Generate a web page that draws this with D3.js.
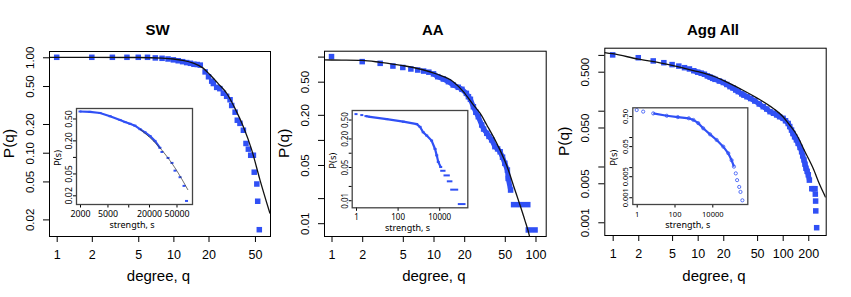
<!DOCTYPE html>
<html>
<head>
<meta charset="utf-8">
<script src="https://cdn.jsdelivr.net/npm/d3@7"></script>
<style>
  body { margin: 0; background: #fff; }
  svg { display: block; }
  text { font-family: "Liberation Sans", Arial, sans-serif; fill: #000; }
  .inset text { font-family: "Noto Sans", sans-serif; }
</style>
</head>
<body>
<svg id="chart" width="851" height="297"></svg>
<script>
// ---- SW ----
const swDegree = [1, 2, 3, 4, 5, 6, 7, 8, 9, 10, 11, 12, 13, 14, 15, 16, 17, 18.7, 20, 21.3, 22, 23.5, 25, 26.8, 28.6, 30.6, 31.6, 33.8, 35.3, 37.2, 39.8, 41.9, 43.9, 46, 48.5, 49.3, 51.9, 52.8, 54.5]
const swProb = [1, 1, 1, 1, 1, 1, 0.985, 0.976, 0.96, 0.94, 0.92, 0.9, 0.88, 0.865, 0.845, 0.84, 0.828, 0.703, 0.625, 0.5625, 0.531, 0.484, 0.469, 0.42, 0.39, 0.359, 0.3125, 0.266, 0.219, 0.203, 0.172, 0.125, 0.109, 0.094, 0.094, 0.0625, 0.047, 0.031, 0.0156]
const swFitDegree = [0.86, 5, 8, 10, 12, 14.8, 18, 20.5, 24.2, 28.6, 33.8, 39.8, 46.9, 55.2, 67.3]
const swFitProb = [1, 0.995, 0.98, 0.96, 0.93, 0.87, 0.77, 0.66, 0.53, 0.42, 0.29, 0.187, 0.107, 0.052, 0.023]
const swStrength = [2000, 2790, 3900, 5450, 7600, 8980, 10600, 12500, 14800, 17500, 20700, 24400, 28800]
const swStrengthProb = [0.67, 0.66, 0.63, 0.55, 0.47, 0.43, 0.40, 0.37, 0.32, 0.28, 0.24, 0.195, 0.146]
const swTailStrength = [30800, 37700, 43000, 47600, 56300, 64300, 69900]
const swTailProb = [0.123, 0.0957, 0.0777, 0.0562, 0.0427, 0.0297, 0.0158]
const swStrengthFit = [14800, 28800, 47600, 73400]
const swStrengthFitProb = [0.32, 0.146, 0.063, 0.025]

// ---- AA ----
const aaDegree = [1, 2, 3, 4, 5, 6, 7, 8, 9, 10, 11, 12.5, 14, 15.6, 17.5, 19, 21, 22, 23, 24.6, 26, 27.5, 29.7, 31, 33.3, 35, 37.2, 40, 42.5, 45, 47.5, 50, 53, 54, 57]
const aaProb = [1, 0.87, 0.83, 0.77, 0.74, 0.71, 0.69, 0.67, 0.65, 0.62, 0.574, 0.538, 0.5, 0.456, 0.428, 0.405, 0.362, 0.33, 0.307, 0.25, 0.215, 0.19, 0.151, 0.135, 0.12, 0.11, 0.1, 0.083, 0.078, 0.072, 0.062, 0.0523, 0.0435, 0.0345, 0.025]
const aaRunFrom = [61, 85]
const aaRunTo = [84, 99]
const aaRunProb = [0.0167, 0.0083]
const aaFitDegree = [0.84, 1, 2, 3, 5, 7.7, 10.7, 15.6, 19.6, 24.6, 28.6, 33.3, 41.7, 52, 62.9, 70.5, 78.6, 86.8, 90]
const aaFitProb = [0.915, 0.91, 0.9, 0.854, 0.78, 0.70, 0.618, 0.5, 0.38, 0.263, 0.209, 0.151, 0.091, 0.05, 0.025, 0.0165, 0.0109, 0.0072, 0.0058]
const aaStrength = [1, 1.9, 3, 4.7, 30, 188, 830, 1200, 1700, 2500, 4300, 6300, 7600, 9000, 11800]
const aaStrengthProb = [0.65, 0.62, 0.59, 0.57, 0.51, 0.45, 0.40, 0.35, 0.27, 0.23, 0.18, 0.12, 0.088, 0.064, 0.05]
const aaTailFrom = [13200, 19000, 27400, 39900, 92500]
const aaTailTo = [17000, 27400, 36500, 69300, 155600]
const aaTailProb = [0.0417, 0.0333, 0.025, 0.0167, 0.0083]

// ---- Agg All ----
const aggDegree = [1, 2, 3, 4, 5, 6, 7, 8, 9, 10, 11, 12, 13, 14, 15, 16, 18, 20, 22, 24, 26, 28, 30, 33, 35, 38, 42, 47, 53, 59, 65, 71, 78, 85, 92, 101, 108, 116, 121, 127, 132, 138, 145, 152, 160, 167, 172, 178, 183, 188, 194, 200, 206, 220, 230, 240, 242, 244, 245, 251]
const aggProb = [1, 0.89, 0.78, 0.725, 0.67, 0.63, 0.59, 0.56, 0.52, 0.49, 0.47, 0.45, 0.42, 0.40, 0.38, 0.365, 0.34, 0.32, 0.295, 0.27, 0.255, 0.235, 0.22, 0.2, 0.19, 0.178, 0.165, 0.149, 0.132, 0.118, 0.107, 0.096, 0.09, 0.084, 0.078, 0.073, 0.066, 0.059, 0.052, 0.045, 0.039, 0.034, 0.03, 0.026, 0.022, 0.0184, 0.0155, 0.0131, 0.011, 0.0093, 0.0082, 0.0071, 0.0057, 0.004, 0.004, 0.004, 0.0032, 0.0024, 0.0016, 0.0008]
const aggFitDegree = [0.8, 1, 2, 3.6, 5, 8.9, 15.3, 24, 35, 49.5, 77.6, 101, 120, 146, 183, 228, 273, 320]
const aggFitProb = [1.1, 1.05, 0.84, 0.72, 0.65, 0.525, 0.415, 0.305, 0.228, 0.17, 0.11, 0.078, 0.056, 0.037, 0.0184, 0.0093, 0.0047, 0.0028]
const aggStrength = [1, 2.2, 7.5, 39, 150, 570, 1000, 1800, 3300, 7600, 17000, 38000, 70000, 105000, 140000, 175000, 205000, 265000, 310000, 390000]
const aggStrengthProb = [0.79, 0.70, 0.61, 0.51, 0.46, 0.42, 0.37, 0.29, 0.195, 0.123, 0.08, 0.048, 0.029, 0.017, 0.0104, 0.0062, 0.0037, 0.0022, 0.0015, 0.00079]

const BLUE = '#3050f5'
const svg = d3.select('#chart')
const zip = (a, b) => a.map((v, i) => [v, b[i]])

function styleAxis (a) {
  a.attr('font-family', null).attr('font-size', null)
  a.select('.domain').remove()
  a.selectAll('line').attr('stroke', '#000')
}

function drawPanel (p, idx) {
  const g = svg.append('g')
  const { l, r, t, b } = p.box
  const x = d3.scaleLog().domain(p.xDomain).range([l, r])
  const y = d3.scaleLog().domain(p.yDomain).range([b, t])

  g.append('clipPath').attr('id', 'clip' + idx)
    .append('rect').attr('x', l).attr('y', t).attr('width', r - l).attr('height', b - t)

  // axes
  g.append('g').attr('transform', `translate(0,${b})`)
    .call(d3.axisBottom(x).tickValues(p.xTicks).tickFormat((d, i) => p.xLabels[i]).tickSize(6))
    .call(styleAxis)
    .call(a => a.selectAll('text').attr('y', 23).attr('dy', null).style('font-size', '12.5px'))
  g.append('g').attr('transform', `translate(${l},0)`)
    .call(d3.axisLeft(y).tickValues(p.yTicks).tickFormat((d, i) => p.yLabels[i]).tickSize(6))
    .call(styleAxis)
    .call(a => a.selectAll('text').attr('x', 0).attr('dy', null).attr('text-anchor', 'middle')
      .attr('transform', `translate(${-p.yLabelOff},0) rotate(-90)`).style('font-size', '11.5px'))

  // titles
  g.append('text').attr('x', (l + r) / 2 - 2).attr('y', 35).attr('text-anchor', 'middle')
    .style('font-weight', 'bold').style('font-size', '15px').text(p.title)
  g.append('text').attr('x', (l + r) / 2 - 1).attr('y', 281).attr('text-anchor', 'middle')
    .style('font-size', '15px').text('degree, q')
  g.append('text').attr('transform', `translate(${l - 35},${(t + b) / 2}) rotate(-90)`)
    .attr('text-anchor', 'middle').style('font-size', '15.5px').text('P(q)')

  const plot = g.append('g').attr('clip-path', `url(#clip${idx})`)
  const pts = zip(p.deg, p.prob)
  const sz = 5.5

  // dense band drawn as thick line under the squares
  if (p.band) {
    plot.append('path')
      .datum(pts.slice(p.band[0], p.band[1] + 1))
      .attr('d', d3.line().x(d => x(d[0])).y(d => y(d[1])))
      .attr('fill', 'none').attr('stroke', BLUE).attr('stroke-width', 5)
  }
  plot.selectAll('rect.pt').data(pts).enter().append('rect')
    .attr('class', 'pt')
    .attr('x', d => x(d[0]) - sz / 2).attr('y', d => y(d[1]) - sz / 2)
    .attr('width', sz).attr('height', sz).attr('fill', BLUE)
  if (p.runs) {
    plot.selectAll('rect.run').data(p.runs).enter().append('rect')
      .attr('class', 'run')
      .attr('x', d => x(d[0]) - sz / 2).attr('y', d => y(d[2]) - sz / 2)
      .attr('width', d => x(d[1]) - x(d[0]) + sz).attr('height', sz).attr('fill', BLUE)
  }
  plot.append('path')
    .datum(zip(p.fitDeg, p.fitProb))
    .attr('d', d3.line().x(d => x(d[0])).y(d => y(d[1])).curve(d3.curveMonotoneX))
    .attr('fill', 'none').attr('stroke', '#111').attr('stroke-width', 1.3)

  g.append('rect').attr('x', l + 0.5).attr('y', t + 0.5).attr('width', r - l).attr('height', b - t)
    .attr('fill', 'none').attr('stroke', '#000').attr('stroke-width', 1)

  drawInset(g, p.inset, idx)
}

function drawInset (parent, s, idx) {
  const g = parent.append('g').attr('class', 'inset')
  const { l, r, t, b } = s.box
  const x = d3.scaleLog().domain(s.xDomain).range([l, r])
  const y = d3.scaleLog().domain(s.yDomain).range([b, t])
  const fs = s.tickFont + 'px'

  g.append('rect').attr('x', l).attr('y', t).attr('width', r - l).attr('height', b - t).attr('fill', '#fff')
  g.append('clipPath').attr('id', 'iclip' + idx)
    .append('rect').attr('x', l).attr('y', t).attr('width', r - l).attr('height', b - t)

  g.append('g').attr('transform', `translate(0,${b})`)
    .call(d3.axisBottom(x).tickValues(s.xTicks).tickFormat((d, i) => s.xLabels[i]).tickSize(3.5))
    .call(styleAxis)
    .call(a => a.selectAll('text').attr('y', 12.5).attr('dy', null).style('font-size', fs))
  g.append('g').attr('transform', `translate(${l},0)`)
    .call(d3.axisLeft(y).tickValues(s.yTicks).tickFormat((d, i) => s.yLabels[i]).tickSize(3))
    .call(styleAxis)
    .call(a => a.selectAll('text').attr('x', 0).attr('dy', null).attr('text-anchor', 'middle')
      .attr('transform', 'translate(-4,0) rotate(-90)').style('font-size', fs))
  g.append('text').attr('x', (l + r) / 2 - 2).attr('y', b + 24).attr('text-anchor', 'middle')
    .style('font-size', '9px').text('strength, s')
  g.append('text').attr('transform', `translate(${l - 15.5},${(t + b) / 2 + 2}) rotate(-90)`)
    .attr('text-anchor', 'middle').style('font-size', '9.5px').text('P(s)')

  const plot = g.append('g').attr('clip-path', `url(#iclip${idx})`)
  const pts = zip(s.str, s.prob)
  plot.append('path')
    .datum(pts.slice(s.lineFrom, s.lineTo + 1))
    .attr('d', d3.line().x(d => x(d[0])).y(d => y(d[1])))
    .attr('fill', 'none').attr('stroke', BLUE).attr('stroke-width', 2.2)
  if (s.marker === 'circle') {
    plot.selectAll('circle').data(pts).enter().append('circle')
      .attr('cx', d => x(d[0])).attr('cy', d => y(d[1])).attr('r', 1.6)
      .attr('fill', 'none').attr('stroke', BLUE).attr('stroke-width', 0.8)
  } else {
    plot.selectAll('rect.pt').data(pts).enter().append('rect')
      .attr('class', 'pt')
      .attr('x', d => x(d[0]) - 1.5).attr('y', d => y(d[1]) - 1)
      .attr('width', 3).attr('height', 2).attr('fill', BLUE)
  }
  if (s.tail) {
    plot.selectAll('rect.tail').data(s.tail).enter().append('rect')
      .attr('class', 'tail')
      .attr('x', d => x(d[0]) - 1.5).attr('y', d => y(d[2]) - 1)
      .attr('width', d => x(d[1]) - x(d[0]) + 3).attr('height', 2).attr('fill', BLUE)
  }
  if (s.fit) {
    plot.append('path')
      .datum(s.fit)
      .attr('d', d3.line().x(d => x(d[0])).y(d => y(d[1])).curve(d3.curveMonotoneX))
      .attr('fill', 'none').attr('stroke', '#333').attr('stroke-width', 0.7)
  }
  g.append('rect').attr('x', l + 0.5).attr('y', t + 0.5).attr('width', r - l).attr('height', b - t)
    .attr('fill', 'none').attr('stroke', '#444').attr('stroke-width', 1.3)
}

const panels = [
  {
    title: 'SW',
    box: { l: 49, r: 270, t: 51, b: 236 },
    xDomain: [0.859, 67.3],
    yDomain: [0.0134, 1.164],
    xTicks: [1, 2, 5, 10, 20, 50],
    xLabels: ['1', '2', '5', '10', '20', '50'],
    yTicks: [1, 0.5, 0.2, 0.1, 0.05, 0.02],
    yLabels: ['1.00', '0.50', '0.20', '0.10', '0.05', '0.02'],
    yLabelOff: 15,
    deg: swDegree,
    prob: swProb,
    fitDeg: swFitDegree,
    fitProb: swFitProb,
    inset: {
      box: { l: 76, r: 192, t: 108, b: 204 },
      xDomain: [1750, 83900],
      yDomain: [0.0139, 0.776],
      xTicks: [2000, 5000, 10000, 20000, 50000],
      xLabels: ['2000', '5000', '', '20000', '50000'],
      yTicks: [0.5, 0.2, 0.1, 0.05, 0.02],
      yLabels: ['0.50', '0.20', '', '0.05', '0.02'],
      tickFont: 8.8,
      str: swStrength.concat(swTailStrength),
      prob: swStrengthProb.concat(swTailProb),
      lineFrom: 0,
      lineTo: swStrength.length - 1,
      fit: zip(swStrengthFit, swStrengthFitProb)
    }
  },
  {
    title: 'AA',
    box: { l: 324, r: 545.7, t: 50.7, b: 236 },
    xDomain: [0.844, 125.9],
    yDomain: [0.00702, 1.177],
    xTicks: [1, 2, 5, 10, 20, 50, 100],
    xLabels: ['1', '2', '5', '10', '20', '50', '100'],
    yTicks: [1, 0.5, 0.2, 0.1, 0.05, 0.02, 0.01],
    yLabels: ['', '0.50', '0.20', '', '0.05', '', '0.01'],
    yLabelOff: 15,
    deg: aaDegree,
    prob: aaProb,
    band: [9, aaDegree.length - 1],
    runs: aaRunFrom.map((v, i) => [v, aaRunTo[i], aaRunProb[i]]),
    fitDeg: aaFitDegree,
    fitProb: aaFitProb,
    inset: {
      box: { l: 351.7, r: 467.3, t: 110, b: 207.3 },
      xDomain: [0.621, 224000],
      yDomain: [0.0071, 0.793],
      xTicks: [1, 100, 10000],
      xLabels: ['1', '100', '10000'],
      yTicks: [0.5, 0.2, 0.1, 0.05, 0.02, 0.01],
      yLabels: ['0.50', '0.20', '', '0.05', '', '0.01'],
      tickFont: 8,
      str: aaStrength,
      prob: aaStrengthProb,
      lineFrom: 2,
      lineTo: aaStrength.length - 1,
      tail: aaTailFrom.map((v, i) => [v, aaTailTo[i], aaTailProb[i]])
    }
  },
  {
    title: 'Agg All',
    box: { l: 604.3, r: 825.7, t: 47.7, b: 235 },
    xDomain: [0.797, 320.6],
    yDomain: [0.000592, 1.346],
    xTicks: [1, 2, 5, 10, 20, 50, 100, 200],
    xLabels: ['1', '2', '5', '10', '20', '50', '100', '200'],
    yTicks: [1, 0.5, 0.1, 0.05, 0.01, 0.005, 0.001],
    yLabels: ['', '0.500', '', '0.050', '', '0.005', '0.001'],
    yLabelOff: 15,
    deg: aggDegree,
    prob: aggProb,
    band: [8, 52],
    fitDeg: aggFitDegree,
    fitProb: aggFitProb,
    inset: {
      box: { l: 632.3, r: 747.3, t: 107.3, b: 204 },
      xDomain: [0.585, 711000],
      yDomain: [0.000596, 0.973],
      xTicks: [1, 100, 10000],
      xLabels: ['1', '100', '10000'],
      yTicks: [0.5, 0.1, 0.05, 0.01, 0.005, 0.001],
      yLabels: ['0.50', '', '0.05', '', '0.005', '0.001'],
      tickFont: 7.5,
      str: aggStrength,
      prob: aggStrengthProb,
      marker: 'circle',
      lineFrom: 2,
      lineTo: 14
    }
  }
]

panels.forEach((p, i) => drawPanel(p, i))
</script>
</body>
</html>
